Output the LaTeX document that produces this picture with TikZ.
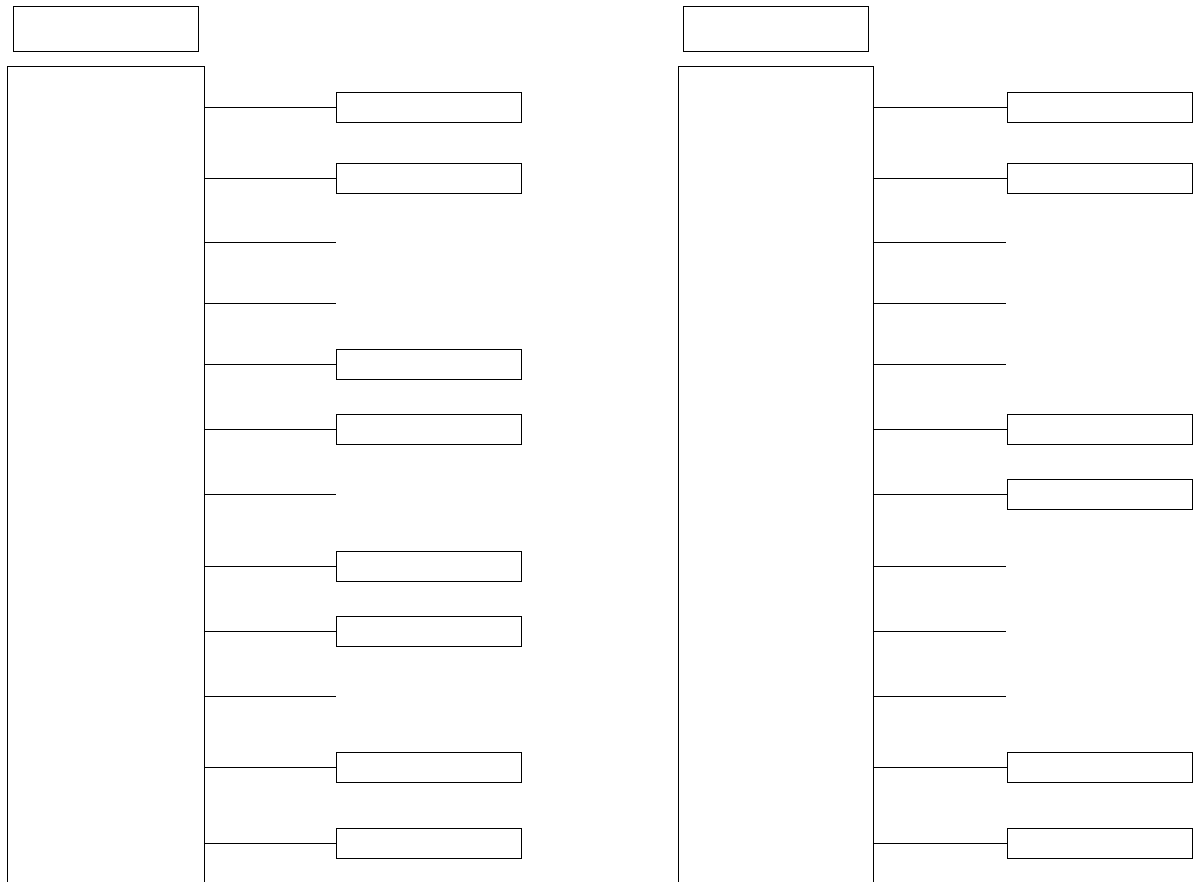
\documentclass[tikz,border=0pt]{standalone}
\usetikzlibrary{positioning}
\tikzset{
  colbox/.style={draw, rectangle, minimum height=16.68cm, inner sep=0pt, outer sep=0pt},
  titlebox/.style={draw, rectangle, minimum width=3.7cm, minimum height=0.9cm, inner sep=0pt, outer sep=0pt},
  itembox/.style={draw, rectangle, minimum width=3.7cm, minimum height=0.6cm, inner sep=0pt, outer sep=0pt},
  branch/.style={line width=0.5pt}
}
\begin{document}
\begin{tikzpicture}[x=0.02cm, y=-0.02cm, line width=0.5pt]
  \useasboundingbox (0,0) rectangle (1197,882);
  % left column (open at the bottom of the page)
  \node[colbox, minimum width=3.94cm] (lcol) at (105.5,483) {};
  \node[titlebox, above=0.3cm of lcol] (ltitle) {};
  % left branches with boxes
  \foreach \y/\n in {107/1, 178/2, 364/5, 429/6, 566/8, 631/9, 767/11, 843/12} {
    \node[itembox] (l\n) at (428.5,\y) {};
    \draw[branch] (lcol.east |- l\n.west) -- (l\n.west);
  }
  % left branches without boxes
  \foreach \y/\n in {242/3, 303/4, 494/7, 696/10} {
    \coordinate (l\n) at (336,\y);
    \draw[branch] (lcol.east |- l\n) -- (l\n);
  }
  % right column
  \node[colbox, minimum width=3.9cm] (rcol) at (775.5,483) {};
  \node[titlebox, above=0.3cm of rcol] (rtitle) {};
  % right branches with boxes
  \foreach \y/\n in {107/1, 178/2, 429/6, 494/7, 767/11, 843/12} {
    \node[itembox] (r\n) at (1100,\y) {};
    \draw[branch] (rcol.east |- r\n.west) -- (r\n.west);
  }
  % right branches without boxes
  \foreach \y/\n in {242/3, 303/4, 364/5, 566/8, 631/9, 696/10} {
    \coordinate (r\n) at (1006,\y);
    \draw[branch] (rcol.east |- r\n) -- (r\n);
  }
\end{tikzpicture}
\end{document}
